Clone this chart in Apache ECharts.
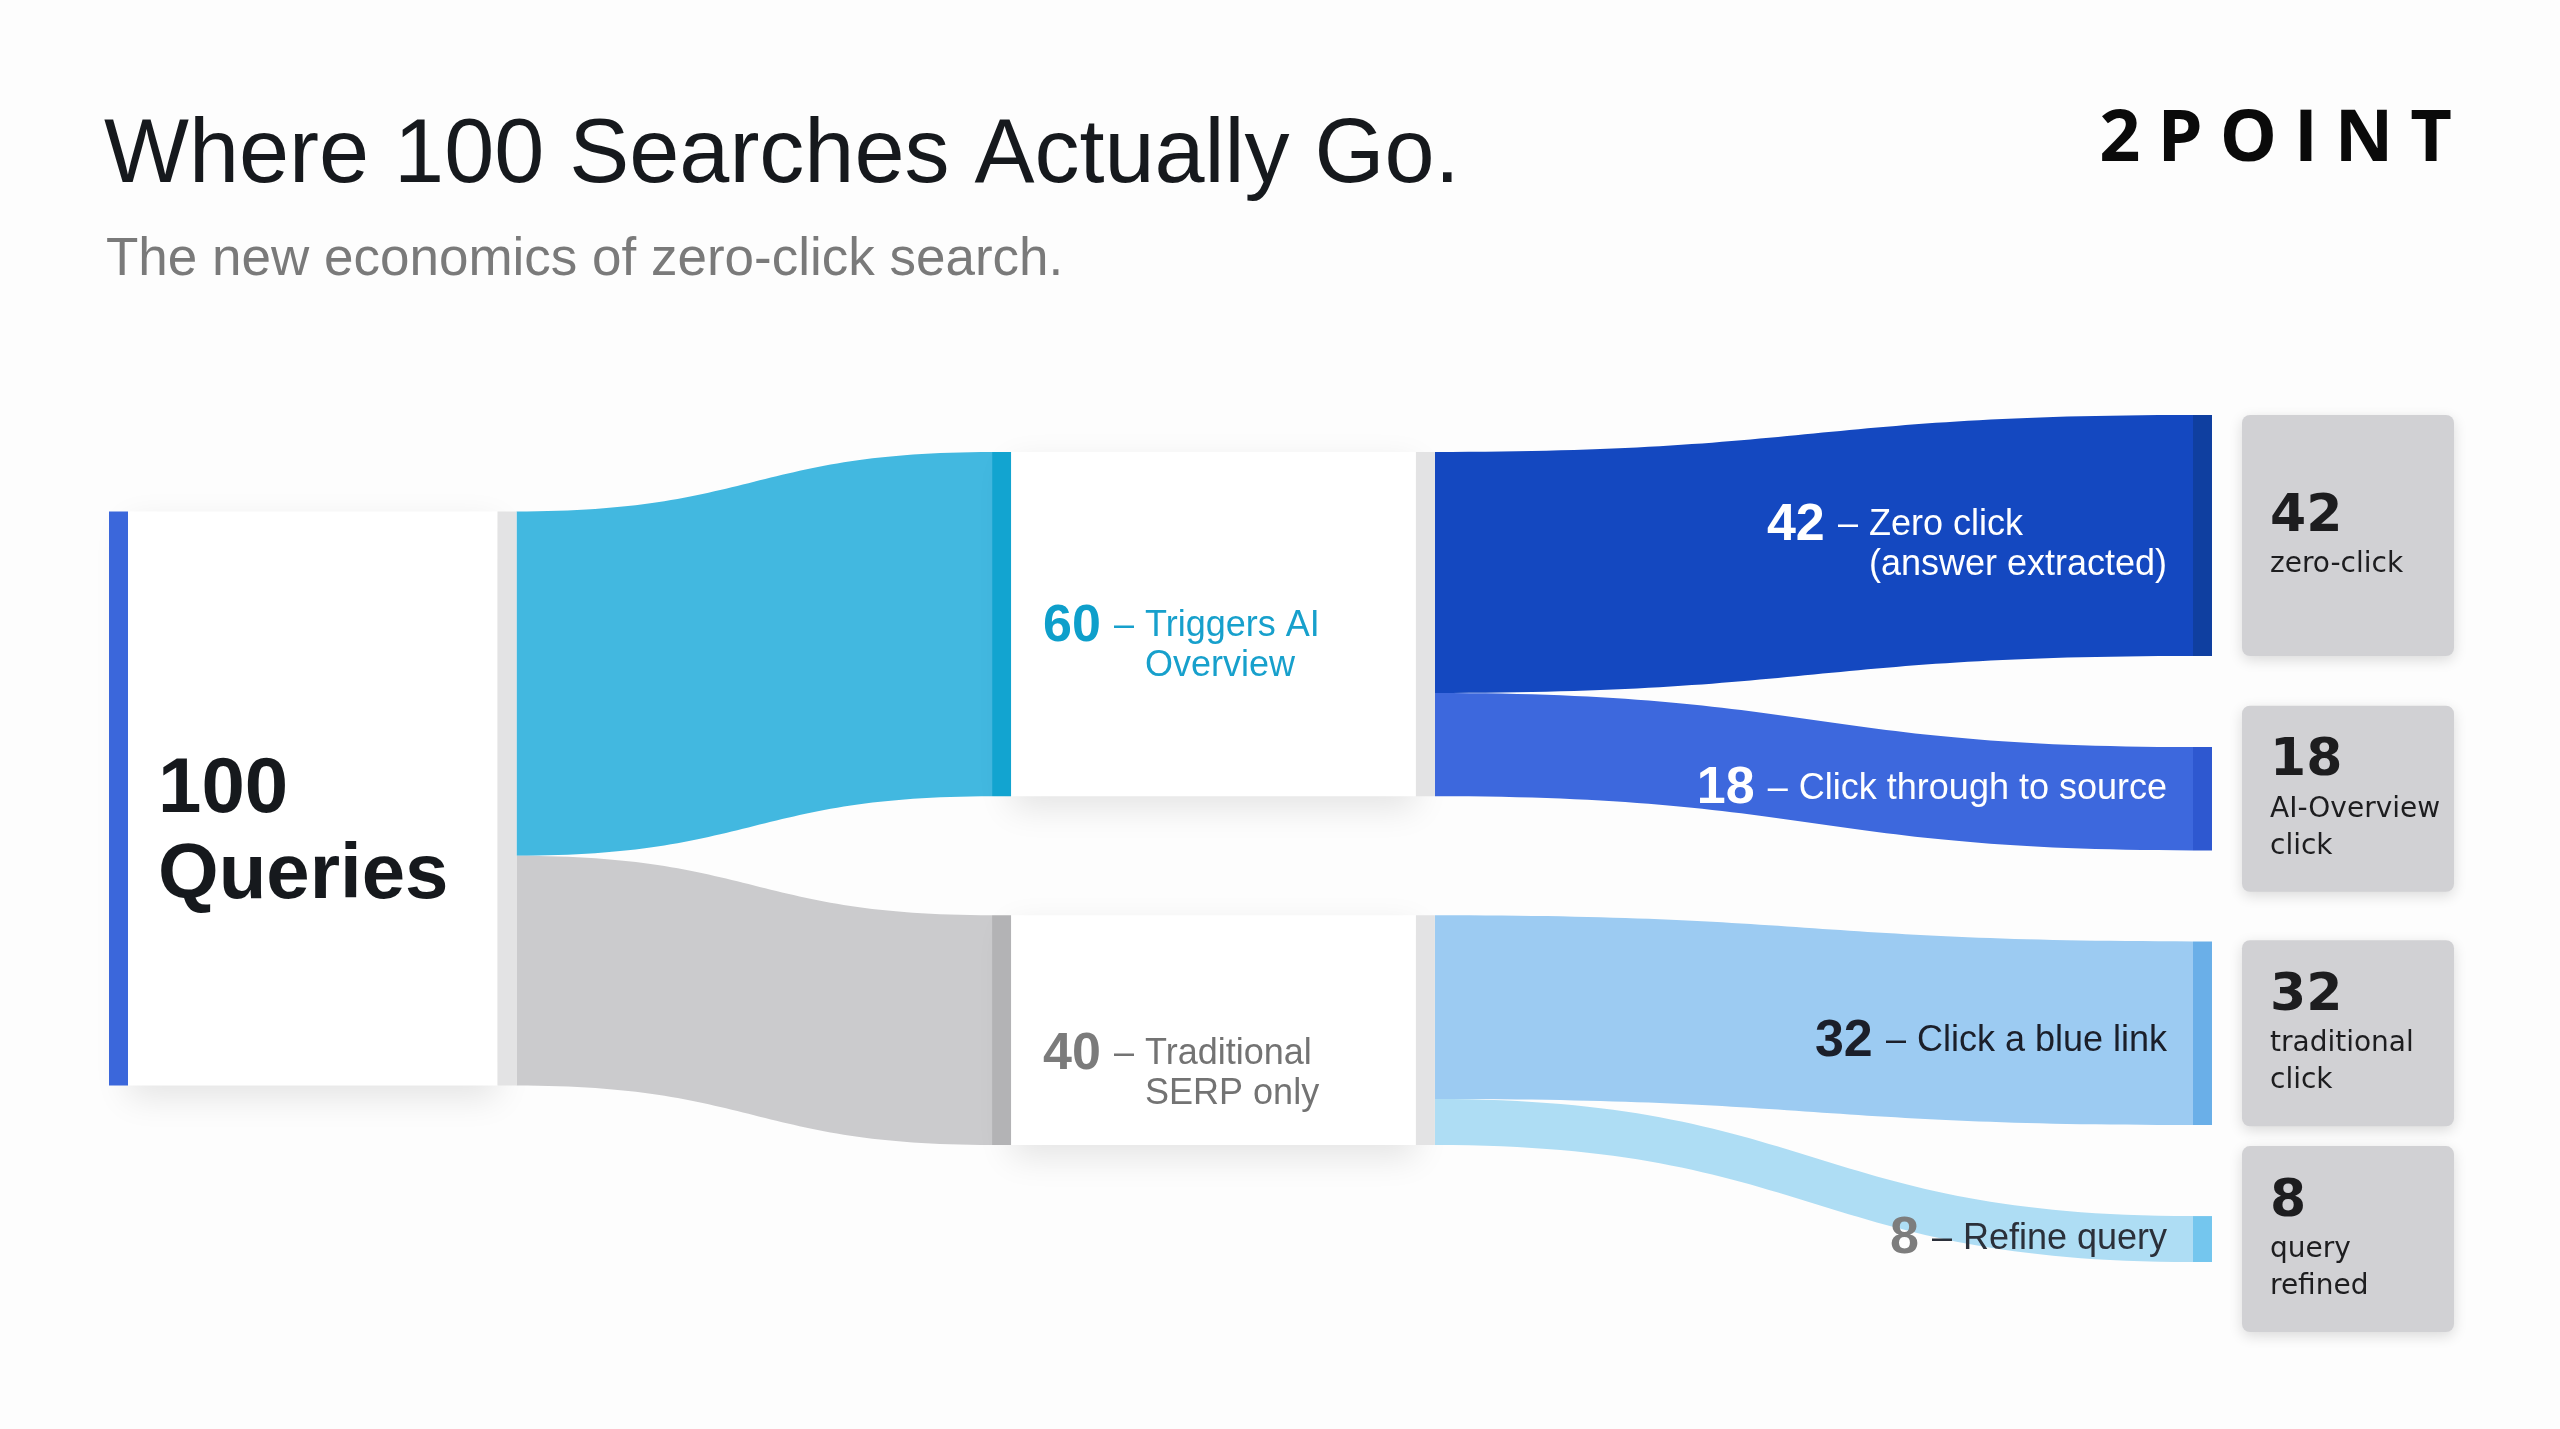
<!DOCTYPE html>
<html>
<head>
<meta charset="utf-8">
<script src="https://cdn.jsdelivr.net/npm/echarts@6/dist/echarts.min.js"></script>
<style>
html,body{margin:0;padding:0;background:#fdfdfd;}
#chart{width:2560px;height:1429px;}
</style>
</head>
<body>
<div id="chart"></div>
<script>
// ---------------- data ----------------
const titleText = 'Where 100 Searches Actually Go.';
const subtitleText = 'The new economics of zero-click search.';
const brandText = '2POINT';

const sourceName = '100 Queries';
const sourceLines = ['100', 'Queries'];
const sourceValue = 100;

const splitNames = ['Triggers AI Overview', 'Traditional SERP only'];
const splitValues = [60, 40];
const splitLines = [['Triggers AI', 'Overview'], ['Traditional', 'SERP only']];

const outcomeNames = ['Zero click (answer extracted)', 'Click through to source', 'Click a blue link', 'Refine query'];
const outcomeParent = [0, 0, 1, 1];
const outcomeValues = [42, 18, 32, 8];
const outcomeLines = [['Zero click', '(answer extracted)'], ['Click through to source'], ['Click a blue link'], ['Refine query']];
const cardLines = [['zero-click'], ['AI-Overview', 'click'], ['traditional', 'click'], ['query', 'refined']];

// ---------------- styles ----------------
const FONT = '"Liberation Sans", Arial, sans-serif';
const CARD_FONT = '"DejaVu Sans", sans-serif';
const BRAND_FONT = '"Open Sans", sans-serif';
const layerDepth = { source: 0, sourceEnd: 11, split: 25, splitEnd: 37, outcome: 59 };
const NODE_GAP = 91;
const SPLIT_GAP = 119;
const sourceNodeColor = '#3b67db';
const connectorColor = '#e3e3e4';
const splitLinkColors = ['#42b8e0', '#cbcbcd'];
const splitNodeColors = ['#12a4d0', '#b3b3b5'];
const outcomeLinkColors = ['#1448c0', '#3d68dd', '#9ccbf2', '#aeddf4'];
const outcomeNodeColors = ['#0f3fa0', '#2e58d0', '#6aafe8', '#74c6ee'];
const sourceLabelOffset = [0, 35];
const splitLabelColors = [{ n: '#0e9fcb', t: '#17a0cc' }, { n: '#7b7b7b', t: '#737373' }];
const splitLabelOffsets = [[0, 22], [0, 44]];
const outcomeLabelColors = [{ n: '#ffffff', t: '#ffffff' }, { n: '#ffffff', t: '#ffffff' }, { n: '#1b1f2a', t: '#1b1f2a' }, { n: '#7d7d7d', t: '#2b303a' }];
const outcomeLabelOffsets = [[0, 10], [0, -10], [0, 8], [0, 0]];
const cardStyle = { bg: '#d1d1d4', text: '#1d1d1f', padX: 28, padY: 27, width: 212, bigLH: 58, smLH: 37 };
const cardLinkStyle = { color: '#ffffff', opacity: 1, curveness: 0, shadowBlur: 34, shadowColor: 'rgba(0,0,0,0.10)', shadowOffsetY: 12 };
const BOX = { left: 109, top: 415, width: 2103, height: 847 };

const measureCtx = document.createElement('canvas').getContext('2d');
function textWidth(str, font) { measureCtx.font = font; return measureCtx.measureText(str).width; }

function flowLabel(value, lines, colors) {
  const nW = Math.round(textWidth(String(value), 'bold 52px ' + FONT) + 13);
  const dW = Math.round(textWidth('–', '36px ' + FONT) + 11);
  let s = '{n|' + value + '}{d|–}{t|' + lines[0] + '}';
  for (let i = 1; i < lines.length; i++) s += '\n{i| }{t|' + lines[i] + '}';
  return {
    formatter: s,
    rich: {
      n: { fontFamily: FONT, fontSize: 52, fontWeight: 'bold', color: colors.n, width: nW, align: 'left', lineHeight: 40 },
      d: { fontFamily: FONT, fontSize: 36, color: colors.t, width: dW, align: 'left', lineHeight: 40 },
      t: { fontFamily: FONT, fontSize: 36, color: colors.t, align: 'left', lineHeight: 40 },
      i: { fontFamily: FONT, fontSize: 36, width: nW + dW, align: 'left', lineHeight: 40 }
    }
  };
}

const endName = n => n + ' ·end';

// place: optional map name -> localY (computed from the library's own layout)
function buildGraph(forCards, nodeHeights, place) {
  const nodes = [];
  const links = [];
  const hidden = forCards;
  const nodeStyle = c => hidden ? { opacity: 0 } : { color: c, borderWidth: 0 };
  const linkStyle = s => hidden ? { opacity: 0, shadowBlur: 0 } : s;
  const addNode = (o) => { if (place && place[o.name] != null) o.localY = place[o.name]; nodes.push(o); };

  addNode({ name: sourceName, depth: layerDepth.source, itemStyle: nodeStyle(sourceNodeColor),
    label: hidden ? { show: false } : {
      show: true, position: 'right', distance: 30, offset: sourceLabelOffset,
      formatter: sourceLines.map(l => '{b|' + l + '}').join('\n'),
      rich: { b: { fontFamily: FONT, fontSize: 78, fontWeight: 'bold', color: '#16191d', lineHeight: 86 } }
    } });
  addNode({ name: endName(sourceName), depth: layerDepth.sourceEnd, itemStyle: nodeStyle(connectorColor), label: { show: false } });
  links.push({ source: sourceName, target: endName(sourceName), value: sourceValue, lineStyle: linkStyle(cardLinkStyle) });

  splitNames.forEach((nm, i) => {
    const fl = flowLabel(splitValues[i], splitLines[i], splitLabelColors[i]);
    addNode({ name: nm, depth: layerDepth.split, itemStyle: nodeStyle(splitNodeColors[i]),
      label: hidden ? { show: false } : Object.assign({ show: true, position: 'right', distance: 32, offset: splitLabelOffsets[i] }, fl) });
    links.push({ source: endName(sourceName), target: nm, value: splitValues[i], lineStyle: linkStyle({ color: splitLinkColors[i], opacity: 1 }) });
  });
  splitNames.forEach((nm, i) => {
    addNode({ name: endName(nm), depth: layerDepth.splitEnd, itemStyle: nodeStyle(connectorColor), label: { show: false } });
    links.push({ source: nm, target: endName(nm), value: splitValues[i], lineStyle: linkStyle(cardLinkStyle) });
  });
  outcomeNames.forEach((nm, i) => {
    let label;
    if (!hidden) {
      label = Object.assign({ show: true, position: 'left', distance: 26, offset: outcomeLabelOffsets[i] },
        flowLabel(outcomeValues[i], outcomeLines[i], outcomeLabelColors[i]));
    } else {
      const contentH = cardStyle.bigLH + cardStyle.smLH * cardLines[i].length;
      const natural = contentH + 2 * cardStyle.padY;
      const h = nodeHeights ? Math.max(nodeHeights[i], natural) : natural;
      const pad = (h - contentH) / 2;
      label = {
        show: true, position: 'right', distance: 30,
        formatter: '{big|' + outcomeValues[i] + '}\n' + cardLines[i].map(l => '{sm|' + l + '}').join('\n'),
        backgroundColor: cardStyle.bg, borderRadius: 8,
        width: cardStyle.width - cardStyle.padX, padding: [pad, 0, pad, cardStyle.padX],
        shadowColor: 'rgba(0,0,0,0.14)', shadowBlur: 14, shadowOffsetY: 4,
        align: 'left',
        rich: {
          big: { fontFamily: CARD_FONT, fontSize: 52, fontWeight: 'bold', color: cardStyle.text, lineHeight: cardStyle.bigLH, align: 'left' },
          sm: { fontFamily: CARD_FONT, fontSize: 28, color: cardStyle.text, lineHeight: cardStyle.smLH, align: 'left' }
        }
      };
    }
    addNode({ name: nm, depth: layerDepth.outcome, itemStyle: nodeStyle(outcomeNodeColors[i]), label });
    links.push({ source: endName(splitNames[outcomeParent[i]]), target: nm, value: outcomeValues[i],
      lineStyle: linkStyle({ color: outcomeLinkColors[i], opacity: 1 }) });
  });
  return { nodes, links };
}

function sankeySeries(id, forCards, nodeHeights, place) {
  const g = buildGraph(forCards, nodeHeights, place);
  return {
    id, type: 'sankey',
    left: BOX.left, top: BOX.top, width: BOX.width, height: BOX.height,
    nodeWidth: 19, nodeGap: NODE_GAP, nodeAlign: 'left', layoutIterations: 0,
    draggable: false, silent: true,
    emphasis: { disabled: true },
    label: { show: false },
    itemStyle: { borderWidth: 0 },
    lineStyle: { opacity: 1, curveness: 0.5 },
    data: g.nodes, links: g.links,
    z: forCards ? 3 : 2
  };
}

function buildOption(nodeHeights, place) {
  return {
    backgroundColor: '#fdfdfd',
    animation: false,
    title: [
      { text: titleText, left: 104, top: 112, padding: 0,
        textStyle: { fontFamily: FONT, fontSize: 90, fontWeight: 'normal', color: '#16191d' } },
      { text: subtitleText, left: 106, top: 234, padding: 0,
        textStyle: { fontFamily: FONT, fontSize: 53, fontWeight: 'normal', color: '#7a7a7a' } },
      { text: brandText.split('').map((c, i) => '{' + (i === 0 ? 'f' : 'l') + '|' + c + '}').join(''),
        right: 108, top: 102, padding: 0,
        textStyle: { rich: {
          f: { fontFamily: BRAND_FONT, fontSize: 72, fontWeight: 'bold', color: '#0a0a0a', lineHeight: 76 },
          l: { fontFamily: BRAND_FONT, fontSize: 72, fontWeight: 'bold', color: '#0a0a0a', lineHeight: 76, padding: [0, 0, 0, 17] }
        } } }
    ],
    series: [sankeySeries('flows', false, null, place), sankeySeries('cards', true, nodeHeights, place)]
  };
}

const chart = echarts.init(document.getElementById('chart'), null, { renderer: 'canvas' });
chart.setOption(buildOption(null, null));

// Read the library's layout of the outcome column, then place each upstream
// column as a stacked block centred on the value-weighted centre of the
// column it feeds.
let heights = null, place = null;
try {
  const graph = chart.getModel().getSeriesByIndex(0).getGraph();
  const lay = {};
  graph.eachNode(n => {
    const l = n.getLayout();
    lay[n.hostGraph.data.getName(n.dataIndex)] = { y: l.y, dy: l.dy };
  });
  heights = outcomeNames.map(nm => lay[nm].dy);
  const center = nm => lay[nm].y + lay[nm].dy / 2;
  const weightedCenter = (names, values) => {
    let s = 0, w = 0;
    names.forEach((nm, i) => { s += center(nm) * values[i]; w += values[i]; });
    return s / w;
  };
  // split column block, centred on the outcome column's weighted centre
  const c1 = weightedCenter(outcomeNames, outcomeValues);
  const blockH = splitNames.reduce((a, nm) => a + lay[nm].dy, 0) + SPLIT_GAP * (splitNames.length - 1);
  let y = c1 - blockH / 2;
  const blockTop = y;
  splitNames.forEach(nm => {
    lay[nm].y = y; lay[endName(nm)].y = y;
    y += lay[nm].dy + SPLIT_GAP;
  });
  // source column centred on the split block
  const c0 = blockTop + blockH / 2;
  lay[sourceName].y = c0 - lay[sourceName].dy / 2;
  lay[endName(sourceName)].y = lay[sourceName].y;
  place = {};
  [sourceName, endName(sourceName)].concat(splitNames, splitNames.map(endName)).forEach(nm => {
    place[nm] = lay[nm].y / BOX.height;
  });
} catch (e) { heights = null; place = null; }
chart.setOption(buildOption(heights, place), true);
</script>
</body>
</html>
